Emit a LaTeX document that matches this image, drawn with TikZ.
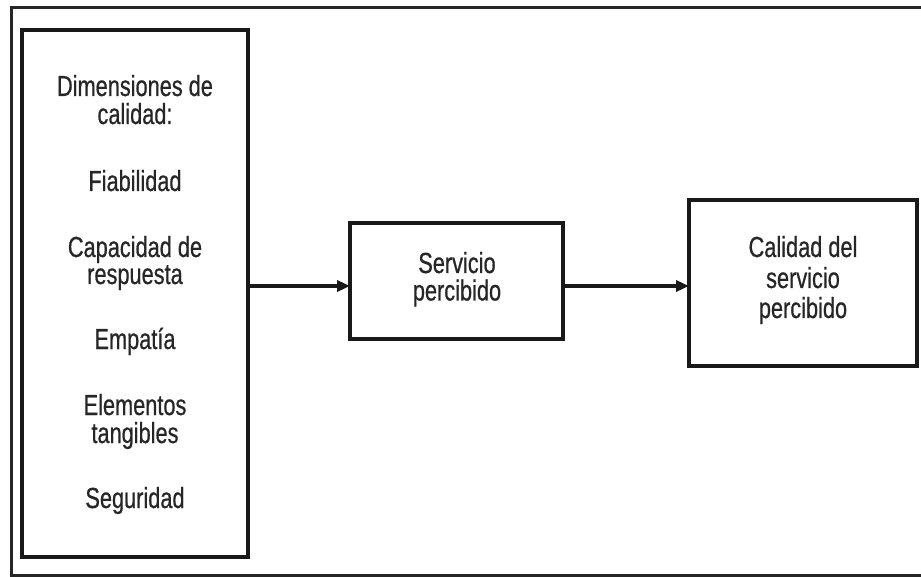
\documentclass[tikz,border=0pt]{standalone}
\usepackage{fontspec}
\setmainfont{Liberation Sans}[FakeStretch=0.75,FakeBold=0.6]
\usetikzlibrary{arrows.meta}
\begin{document}
\begin{tikzpicture}[x=1pt,y=-1pt,
  box/.style={draw=black!90, line width=3.2pt, inner sep=0pt, outer sep=0pt},
  txt/.style={anchor=base, inner sep=0pt, font=\fontsize{29}{28}\selectfont, text=black!85},
  arr/.style={draw=black!90, line width=3.2pt, -{Triangle[length=13pt,width=11pt]}}]
\useasboundingbox (0,0) rectangle (921,577);
\fill[white] (0,0) rectangle (921,577);
\draw[black!85, line width=3pt] (11,8) rectangle (930,575);
% boxes
\node[box, minimum width=226pt, minimum height=527pt] (L) at (135,293.5) {};
\node[box, minimum width=213pt, minimum height=116pt] (M) at (456.5,281) {};
\node[box, minimum width=228pt, minimum height=166pt] (R) at (803,283) {};
% left texts
\node[txt] (l1) at (135,96) {Dimensiones de};
\node[txt] (l2) at (135,124) {calidad:};
\node[txt] (l3) at (135,191) {Fiabilidad};
\node[txt] (l4) at (135,257) {Capacidad de};
\node[txt] (l5) at (135,284) {respuesta};
\node[txt] (l6) at (135,349) {Empatía};
\node[txt] (l7) at (135,415) {Elementos};
\node[txt] (l8) at (135,443) {tangibles};
\node[txt] (l9) at (135,508) {Seguridad};
% middle texts
\node[txt] (m1) at (457,273) {Servicio};
\node[txt] (m2) at (457,300.5) {percibido};
% right texts
\node[txt] (r1) at (803,257) {Calidad del};
\node[txt] (r2) at (803,288) {servicio};
\node[txt] (r3) at (803,318) {percibido};
% arrows
\coordinate (ay) at (0,286);
\draw[arr] (L.east |- ay) -- (M.west |- ay);
\draw[arr] (M.east |- ay) -- (R.west |- ay);
\end{tikzpicture}
\end{document}
